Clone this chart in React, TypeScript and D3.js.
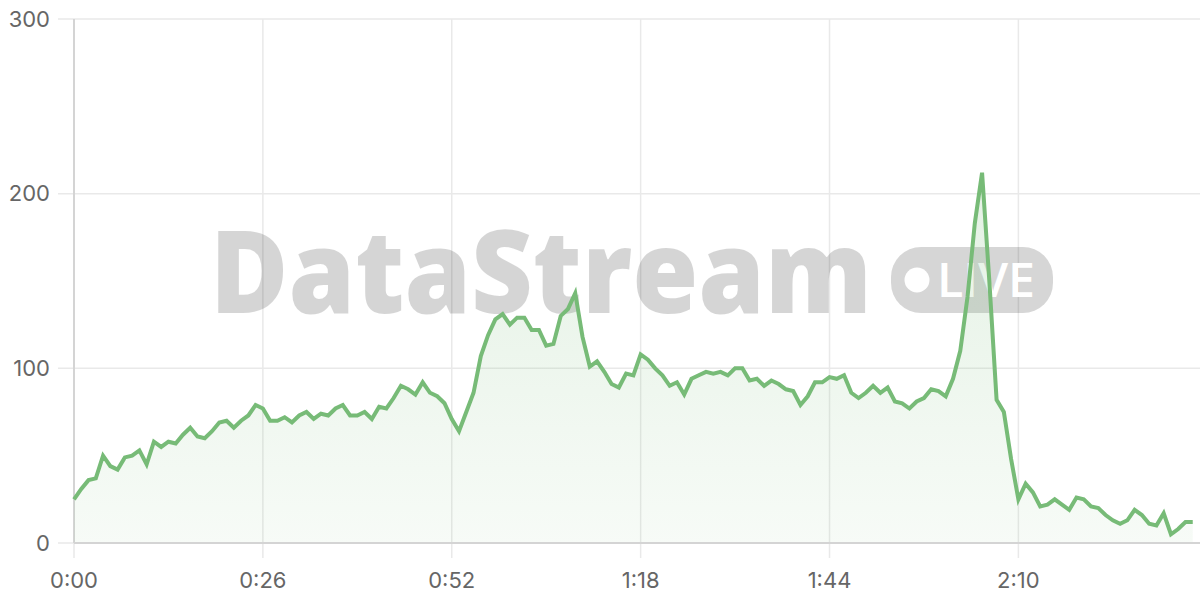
import React from "react";
import * as d3 from "d3";

const values: number[] = [
  25, 31, 36, 37, 50, 44, 42, 49, 50, 53,
  45, 58, 55, 58, 57, 62, 66, 61, 60, 64,
  69, 70, 66, 70, 73, 79, 77, 70, 70, 72,
  69, 73, 75, 71, 74, 73, 77, 79, 73, 73,
  75, 71, 78, 77, 83, 90, 88, 85, 92, 86,
  84, 80, 71, 64, 75, 86, 107, 119, 128, 131,
  125, 129, 129, 122, 122, 113, 114, 130, 134, 143,
  118, 101, 104, 98, 91, 89, 97, 96, 108, 105,
  100, 96, 90, 92, 85, 94, 96, 98, 97, 98,
  96, 100, 100, 93, 94, 90, 93, 91, 88, 87,
  79, 84, 92, 92, 95, 94, 96, 86, 83, 86,
  90, 86, 89, 81, 80, 77, 81, 83, 88, 87,
  84, 94, 110, 141, 183, 212, 150, 82, 75, 48,
  25, 34, 29, 21, 22, 25, 22, 19, 26, 25,
  21, 20, 16, 13, 11, 13, 19, 16, 11, 10,
  17, 5, 8, 12, 12,
];
const seconds: number[] = values.map((_, i) => i);
const xTicks: number[] = [0, 26, 52, 78, 104, 130];
const yTicks: number[] = [0, 100, 200, 300];
const watermarkText = "DataStream";
const badgeText = "LIVE";

const fmt = (s: number) => `${Math.floor(s / 60)}:${String(s % 60).padStart(2, "0")}`;

export default function App() {
  const W = 1200, H = 600;
  const x = d3.scaleLinear().domain([0, 155]).range([74, 1200]);
  const y = d3.scaleLinear().domain([0, 300]).range([543, 19]);
  const data = seconds.map((s, i) => ({ s, v: values[i] }));
  const line = d3.line<{ s: number; v: number }>().x(d => x(d.s)).y(d => y(d.v));
  const area = d3.area<{ s: number; v: number }>().x(d => x(d.s)).y0(y(0)).y1(d => y(d.v));
  const green = "#77bb77";
  const font = "Inter, 'Open Sans', 'DejaVu Sans', sans-serif";
  return (
    <div style={{ position: "absolute", left: 0, top: 0, width: W, height: H }}>
      <svg width={W} height={H} style={{ display: "block" }}>
        <defs>
          <linearGradient id="fillg" x1="0" y1="0" x2="0" y2="1" gradientUnits="objectBoundingBox">
            <stop offset="0%" stopColor={green} stopOpacity={0.2} />
            <stop offset="100%" stopColor={green} stopOpacity={0.06} />
          </linearGradient>
        </defs>
        <rect x={0} y={0} width={W} height={H} fill="#fff" />
        {yTicks.map(t => (
          <line key={"gy" + t} x1={58} x2={1200} y1={y(t)} y2={y(t)} stroke="#e9e9e9" strokeWidth={1.5} />
        ))}
        {xTicks.map(t => (
          <line key={"gx" + t} x1={x(t)} x2={x(t)} y1={19} y2={558} stroke="#e9e9e9" strokeWidth={1.5} />
        ))}
        <line x1={74} x2={74} y1={19} y2={543} stroke="#d4d4d4" strokeWidth={2} />
        <g opacity={0.16} fill="#000">
          <text
            x={210}
            y={313}
            fontFamily="'Open Sans', 'DejaVu Sans', sans-serif"
            fontWeight={800}
            fontSize={116}
            textLength={662}
            lengthAdjust="spacingAndGlyphs"
          >
            {watermarkText}
          </text>
        </g>
        <g>
          <rect x={891} y={247} width={162} height={66} rx={30} fill="#000" opacity={0.16} />
          <circle cx={917} cy={280} r={12.5} fill="#fff" />
          <text x={937} y={297} fontFamily="'Open Sans', 'DejaVu Sans', sans-serif" fontSize={47} fontWeight={600} fill="#fff" textLength={98} lengthAdjust="spacingAndGlyphs">
            {badgeText}
          </text>
        </g>
        <path d={area(data) ?? ""} fill="url(#fillg)" />
        <line x1={74} x2={1200} y1={543} y2={543} stroke="#d4d4d4" strokeWidth={2} />
        <path d={line(data) ?? ""} fill="none" stroke={green} strokeWidth={4} strokeLinejoin="miter" />
        {yTicks.map(t => (
          <text key={"ly" + t} x={50} y={y(t)} dy="0.35em" textAnchor="end" fontFamily={font} fontSize={22} fill="#666">
            {t}
          </text>
        ))}
        {xTicks.map(t => (
          <text key={"lx" + t} x={x(t)} y={588} textAnchor="middle" fontFamily={font} fontSize={22} fill="#666">
            {fmt(t)}
          </text>
        ))}
      </svg>
    </div>
  );
}
